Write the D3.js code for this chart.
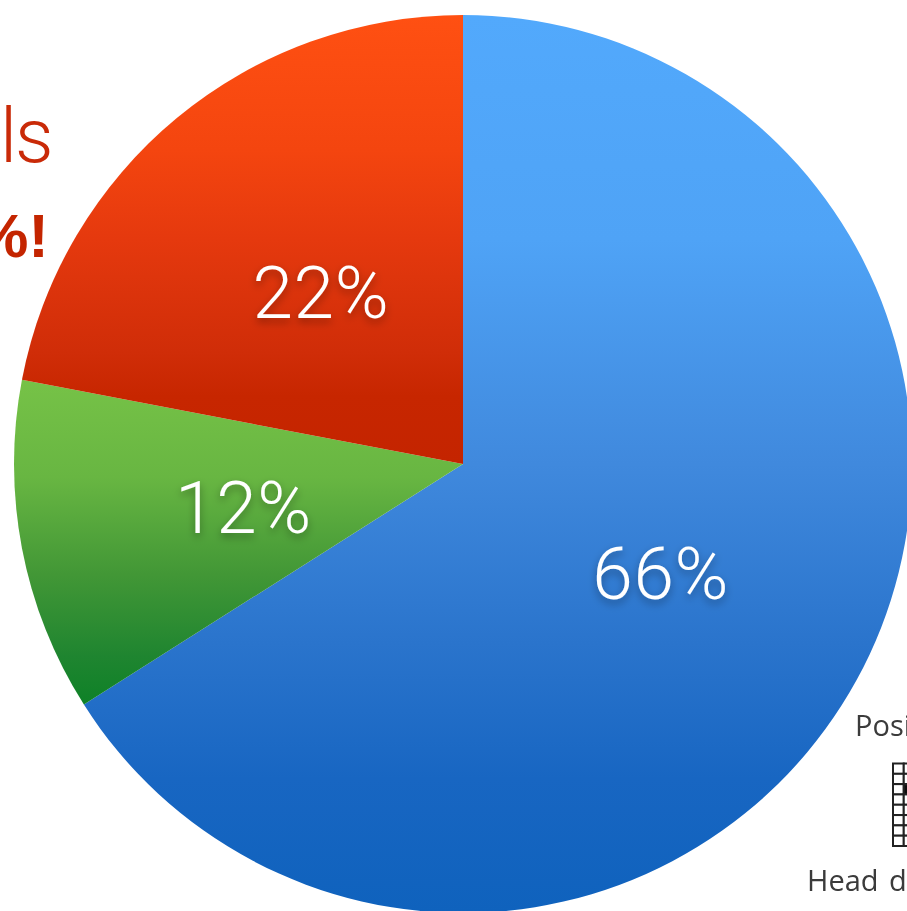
<!DOCTYPE html>
<html>
<head>
<meta charset="utf-8">
<script src="https://cdn.jsdelivr.net/npm/d3@7"></script>
<style>
  html, body { margin: 0; padding: 0; background: #fff; overflow: hidden; }
  svg { display: block; }
</style>
</head>
<body>
<script>
// Pie shares, clockwise from twelve o'clock
const categories = ["blue", "green", "red"];
const shares = [66, 12, 22];
const percentLabels = ["66%", "12%", "22%"];

// Vertical gradient ramps per slice: [offset, colour]
const blueRamp = [[0, "#52a9fc"], [0.25, "#4fa3f6"], [0.5, "#4089dd"], [0.7, "#2a74cc"], [0.85, "#1866c2"], [1, "#0f62bd"]];
const greenRamp = [[0, "#76c247"], [0.3, "#68b642"], [0.6, "#429736"], [0.85, "#1f8530"], [1, "#0e8127"]];
const redRamp = [[0, "#ff5012"], [0.3, "#f4450f"], [0.5, "#e5390e"], [0.75, "#d02d08"], [0.85, "#c72600"], [1, "#c42400"]];
const ramps = [blueRamp, greenRamp, redRamp];

// Grid glyph cells in the lower right corner
const gridRows = d3.range(8);
const gridCols = d3.range(2);
const filledCell = [2, 1];

const width = 907, height = 911;
const cx = 463, cy = 464, radius = 449;

const svg = d3.select("body").append("svg")
  .attr("width", width).attr("height", height)
  .attr("viewBox", `0 0 ${width} ${height}`);

const defs = svg.append("defs");

categories.forEach((c, i) => {
  const g = defs.append("linearGradient")
    .attr("id", `fill-${c}`)
    .attr("x1", 0).attr("y1", 0).attr("x2", 0).attr("y2", 1);
  g.selectAll("stop").data(ramps[i]).join("stop")
    .attr("offset", d => d[0])
    .attr("stop-color", d => d[1]);
});

const shadow = defs.append("filter")
  .attr("id", "label-shadow")
  .attr("x", "-20%").attr("y", "-30%").attr("width", "140%").attr("height", "170%");
shadow.append("feDropShadow")
  .attr("dx", 0).attr("dy", 4).attr("stdDeviation", 4)
  .attr("flood-color", "#000").attr("flood-opacity", 0.35);

defs.append("filter").attr("id", "soft")
  .attr("x", "-5%").attr("y", "-5%").attr("width", "110%").attr("height", "110%")
  .append("feGaussianBlur").attr("stdDeviation", 0.4);

// Side headline fragments, cut off by the left edge
svg.append("text")
  .attr("x", "0 15").attr("y", 162)
  .attr("font-family", "Roboto").attr("font-weight", 300)
  .attr("font-size", 76).attr("fill", "#c92a08")
  .text("ls");

svg.append("text")
  .attr("x", 49).attr("y", 257)
  .attr("text-anchor", "end")
  .attr("font-family", "Liberation Sans").attr("font-weight", 700)
  .attr("font-size", 62).attr("fill", "#c42500")
  .text("%!");

const pie = d3.pie().sort(null).value(d => d);
const arc = d3.arc().innerRadius(0).outerRadius(radius);
const arcs = pie(shares);

const chart = svg.append("g").attr("transform", `translate(${cx},${cy})`);

chart.selectAll("path.slice")
  .data(arcs)
  .join("path")
  .attr("class", "slice")
  .attr("d", arc)
  .attr("fill", (d, i) => `url(#fill-${categories[i]})`);

chart.selectAll("text.pct")
  .data(arcs)
  .join("text")
  .attr("class", "pct")
  .attr("transform", d => `translate(${arc.centroid(d)})`)
  .attr("dx", 1)
  .attr("dy", "0.37em")
  .attr("text-anchor", "middle")
  .attr("font-family", "Roboto").attr("font-weight", 300)
  .attr("font-size", 73).attr("letter-spacing", 0.6).attr("fill", "#fff")
  .attr("filter", "url(#label-shadow)")
  .text((d, i) => percentLabels[i]);

// Small panel caption and grid, running off the right edge
const panel = svg.append("g").attr("filter", "url(#soft)");

const captionStyle = s => s
  .attr("font-family", "'Open Sans'")
  .attr("font-size", 29).attr("fill", "#3a3a3a");

panel.append("text").call(captionStyle).attr("x", 855).attr("y", 736).text("Posi");
panel.append("text").call(captionStyle).attr("x", 807).attr("y", 891)
  .attr("word-spacing", 3).text("Head d");

const gx = d3.scaleBand().domain(gridCols).range([893, 914.5]);
const gy = d3.scaleBand().domain(gridRows).range([763.5, 846]);

panel.append("g").selectAll("rect")
  .data(gridRows.flatMap(r => gridCols.map(c => [r, c])))
  .join("rect")
  .attr("x", d => gx(d[1]))
  .attr("y", d => gy(d[0]))
  .attr("width", gx.bandwidth())
  .attr("height", gy.bandwidth())
  .attr("fill", d => (d[0] === filledCell[0] && d[1] === filledCell[1]) ? "#111" : "#fff")
  .attr("stroke", "#222")
  .attr("stroke-width", 2);
</script>
</body>
</html>
